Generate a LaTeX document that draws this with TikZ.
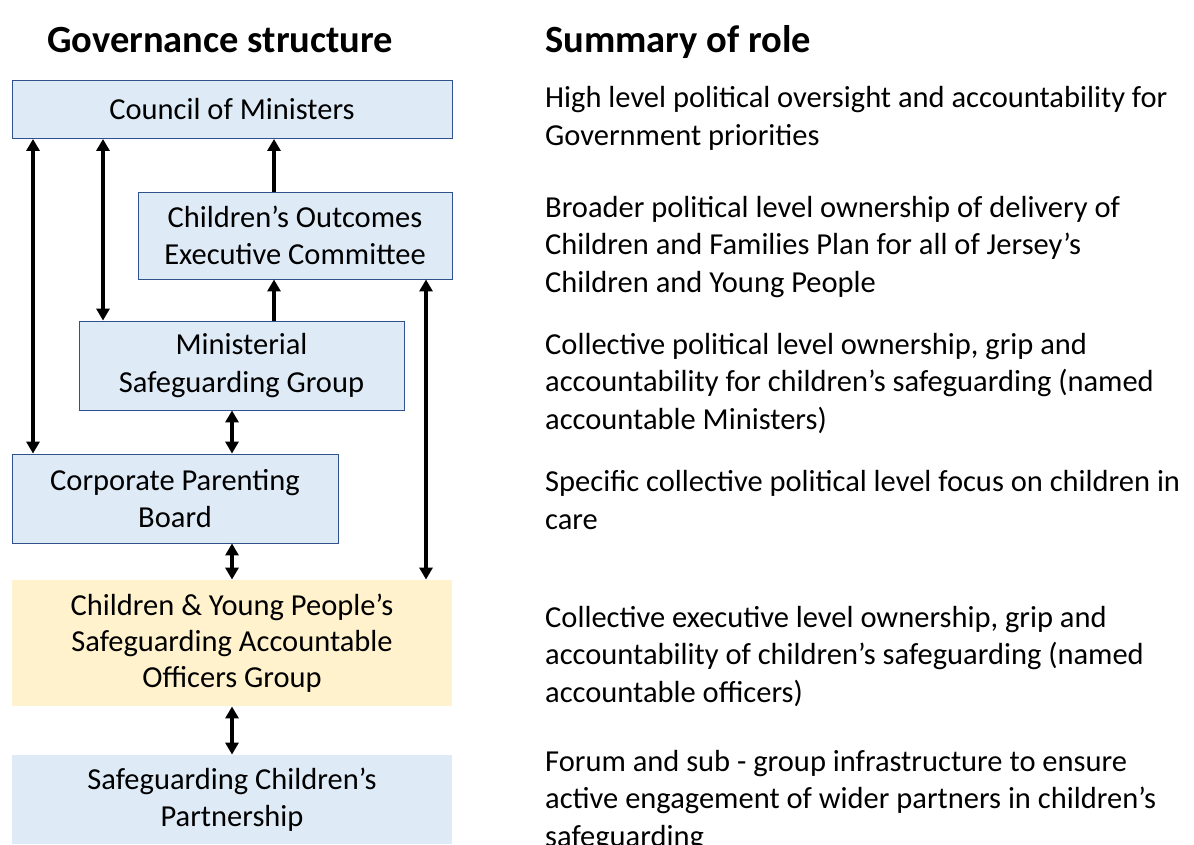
\documentclass[tikz,border=0pt]{standalone}
\usepackage{fontspec}
\setmainfont{Carlito}
\usetikzlibrary{arrows.meta}

\definecolor{boxblue}{HTML}{DEEBF7}
\definecolor{boxline}{HTML}{2F528F}
\definecolor{boxyellow}{HTML}{FFF2CC}

\tikzset{
  govbox/.style={rectangle, fill=boxblue, draw=boxline, line width=0.9pt, align=center, inner sep=0pt,
                 font=\fontsize{30.5}{37.5}\selectfont},
  plainbox/.style={govbox, draw=none},
  roletext/.style={anchor=base west, align=left, inner sep=0pt, font=\fontsize{30.5}{37.5}\selectfont},
  heading/.style={anchor=base west, inner sep=0pt, font=\fontsize{38.5}{44}\selectfont\bfseries},
  oneway/.style={line width=3.5pt, -{Triangle[length=12pt,width=13pt]}},
  twoway/.style={line width=3.5pt, {Triangle[length=12pt,width=13pt]}-{Triangle[length=12pt,width=13pt]}},
}

\begin{document}
\begin{tikzpicture}[x=1pt, y=-1pt]
    \useasboundingbox (0,0) rectangle (1194,844);
    \clip (0,0) rectangle (1194,844);

    % headings
    \node[heading] (headL) at (47,52) {Governance structure};
    \node[heading] (headR) at (545,52) {Summary of role};

    % governance boxes
    \node[govbox, minimum width=440, minimum height=58] (council) at (232,109.5) {Council of Ministers};
    \node[govbox, minimum width=314, minimum height=87] (coec) at (295,235.5) {Children’s Outcomes\\Executive Committee};
    \node[govbox, minimum width=325, minimum height=89] (msg) at (241.5,365.5) {Ministerial\\Safeguarding Group};
    \node[govbox, minimum width=326, minimum height=89] (cpb) at (175,498.5) {Corporate Parenting\\Board};
    \node[plainbox, fill=boxyellow, minimum width=440, minimum height=126,
          font=\fontsize{30.5}{36}\selectfont] (cypsao) at (232,643) {Children \& Young People’s\\Safeguarding Accountable\\Officers Group};
    \node[plainbox, minimum width=440, minimum height=89] (scp) at (232,799.5) {Safeguarding Children’s\\Partnership};

    % arrow columns
    \coordinate (colA) at (33,0);
    \coordinate (colB) at (103,0);
    \coordinate (colC) at (274,0);
    \coordinate (colD) at (232,0);
    \coordinate (colE) at (426,0);

    \draw[twoway] (council.south -| colA) -- (cpb.north -| colA);
    \draw[twoway] (council.south -| colB) -- (msg.north -| colB);
    \draw[oneway] (coec.north -| colC) -- (council.south -| colC);
    \draw[oneway] (msg.north -| colC) -- (coec.south -| colC);
    \draw[twoway] (coec.south -| colE) -- (cypsao.north -| colE);
    \draw[twoway] (msg.south -| colD) -- (cpb.north -| colD);
    \draw[twoway] (cpb.south -| colD) -- (cypsao.north -| colD);
    \draw[twoway] (cypsao.south -| colD) -- (scp.north -| colD);

    % summary of role (placed at the baseline of the last line)
    \node[roletext] (roleA) at (545,145) {High level political oversight and accountability for\\Government priorities};
    \node[roletext] (roleB) at (545,292) {Broader political level ownership of delivery of\\Children and Families Plan for all of Jersey’s\\Children and Young People};
    \node[roletext] (roleC) at (545,429) {Collective political level ownership, grip and\\accountability for children’s safeguarding (named\\accountable Ministers)};
    \node[roletext] (roleD) at (545,529) {Specific collective political level focus on children in\\care};
    \node[roletext] (roleE) at (545,702) {Collective executive level ownership, grip and\\accountability of children’s safeguarding (named\\accountable officers)};
    \node[roletext] (roleF) at (545,846) {Forum and sub - group infrastructure to ensure\\active engagement of wider partners in children’s\\safeguarding};
\end{tikzpicture}
\end{document}
